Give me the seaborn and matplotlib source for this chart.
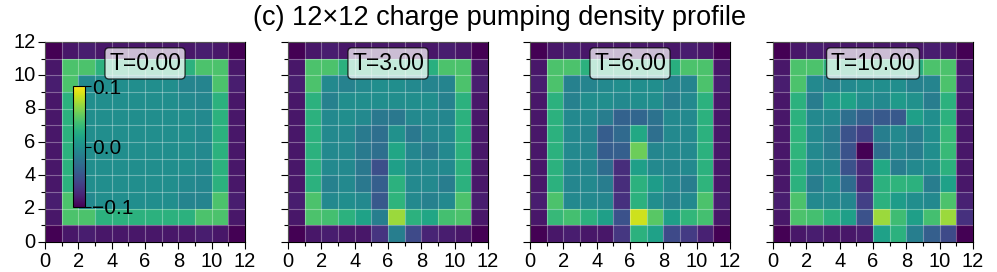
import numpy as np
import matplotlib
matplotlib.use("Agg")
import matplotlib.pyplot as plt
import seaborn as sns

plt.rcParams['font.family'] = ['Liberation Sans', 'DejaVu Sans']

times = ["T=0.00", "T=3.00", "T=6.00", "T=10.00"]
title = "(c) 12×12 charge pumping density profile"
tick_vals = [0, 2, 4, 6, 8, 10, 12]
cbar_ticks = [-0.1, 0.0, 0.1]

# rows listed from top (y=11) to bottom (y=0)
density_t0 = [
    [-0.100, -0.088, -0.084, -0.088, -0.088, -0.088, -0.088, -0.088, -0.088, -0.084, -0.088, -0.100],
    [-0.088, 0.043, 0.043, 0.028, 0.028, 0.028, 0.028, 0.028, 0.028, 0.043, 0.043, -0.088],
    [-0.084, 0.043, -0.006, -0.002, -0.002, -0.002, -0.002, -0.002, -0.010, -0.010, 0.043, -0.084],
    [-0.088, 0.028, -0.002, -0.002, -0.002, -0.002, -0.002, -0.002, -0.006, -0.008, 0.028, -0.088],
    [-0.088, 0.028, -0.002, -0.002, -0.002, -0.002, -0.002, -0.002, -0.002, -0.006, 0.028, -0.088],
    [-0.088, 0.028, -0.002, -0.002, -0.002, -0.002, -0.002, -0.002, -0.002, -0.006, 0.028, -0.088],
    [-0.088, 0.028, -0.002, -0.002, -0.002, -0.002, -0.002, -0.002, -0.002, -0.006, 0.028, -0.088],
    [-0.088, 0.028, -0.002, -0.002, -0.002, -0.002, -0.002, -0.002, -0.002, -0.006, 0.028, -0.088],
    [-0.088, 0.028, -0.002, -0.002, -0.002, -0.002, -0.002, -0.002, -0.006, -0.008, 0.028, -0.088],
    [-0.084, 0.043, -0.006, -0.002, -0.002, -0.002, -0.002, -0.002, -0.010, -0.010, 0.043, -0.084],
    [-0.088, 0.043, 0.043, 0.028, 0.028, 0.028, 0.028, 0.028, 0.028, 0.043, 0.043, -0.088],
    [-0.100, -0.088, -0.084, -0.088, -0.088, -0.088, -0.088, -0.088, -0.088, -0.084, -0.088, -0.100],
]

density_t3 = [
    [-0.100, -0.088, -0.084, -0.088, -0.088, -0.088, -0.088, -0.088, -0.088, -0.084, -0.088, -0.100],
    [-0.088, 0.043, 0.043, 0.028, 0.028, 0.028, 0.028, 0.028, 0.026, 0.043, 0.043, -0.088],
    [-0.084, 0.043, -0.006, -0.012, -0.006, -0.002, -0.002, -0.006, -0.010, -0.010, 0.043, -0.084],
    [-0.088, 0.028, -0.013, -0.002, -0.002, -0.002, -0.002, -0.002, -0.002, -0.013, 0.028, -0.088],
    [-0.088, 0.028, -0.006, -0.002, -0.006, -0.020, -0.020, -0.006, -0.006, -0.008, 0.028, -0.088],
    [-0.088, 0.028, -0.006, -0.006, -0.018, -0.028, 0.000, -0.020, -0.008, -0.006, 0.028, -0.088],
    [-0.088, 0.028, -0.006, -0.006, -0.018, -0.028, 0.018, -0.008, -0.018, -0.006, 0.028, -0.088],
    [-0.088, 0.028, -0.006, -0.006, -0.020, -0.052, 0.012, -0.006, -0.006, -0.006, 0.028, -0.088],
    [-0.088, 0.028, -0.013, -0.006, -0.020, -0.040, 0.028, -0.006, -0.006, -0.016, 0.028, -0.088],
    [-0.084, 0.043, -0.006, -0.002, -0.006, -0.045, 0.030, -0.006, -0.013, -0.006, 0.043, -0.084],
    [-0.088, 0.043, 0.040, 0.028, 0.015, -0.015, 0.070, 0.028, 0.018, 0.040, 0.043, -0.088],
    [-0.100, -0.088, -0.084, -0.088, -0.088, -0.070, -0.015, -0.055, -0.080, -0.084, -0.088, -0.100],
]

density_t6 = [
    [-0.100, -0.088, -0.084, -0.088, -0.088, -0.088, -0.088, -0.088, -0.088, -0.084, -0.088, -0.100],
    [-0.088, 0.043, 0.043, 0.028, 0.028, 0.028, 0.028, 0.028, 0.026, 0.043, 0.043, -0.088],
    [-0.084, 0.043, -0.013, -0.010, -0.006, -0.002, -0.002, -0.002, -0.010, -0.010, 0.043, -0.084],
    [-0.088, 0.028, -0.013, -0.002, -0.002, -0.006, -0.002, -0.002, -0.016, -0.006, 0.028, -0.088],
    [-0.088, 0.028, -0.006, -0.006, -0.016, -0.038, -0.035, -0.025, -0.006, -0.006, 0.028, -0.088],
    [-0.088, 0.028, -0.006, -0.010, -0.042, -0.032, 0.020, -0.028, -0.006, -0.006, 0.028, -0.088],
    [-0.088, 0.028, -0.006, -0.008, -0.042, -0.040, 0.055, -0.008, -0.006, -0.006, 0.028, -0.088],
    [-0.088, 0.028, -0.006, -0.008, -0.030, -0.075, 0.012, -0.006, -0.008, -0.006, 0.028, -0.088],
    [-0.088, 0.028, -0.008, -0.006, -0.016, -0.075, 0.028, 0.010, -0.006, -0.016, 0.030, -0.088],
    [-0.084, 0.043, -0.006, -0.006, -0.008, -0.072, 0.028, -0.002, -0.013, -0.006, 0.043, -0.084],
    [-0.088, 0.034, 0.040, 0.028, 0.012, -0.050, 0.085, 0.048, 0.012, 0.032, 0.040, -0.088],
    [-0.100, -0.088, -0.084, -0.088, -0.088, -0.068, 0.028, 0.014, -0.055, -0.065, -0.082, -0.100],
]

density_t10 = [
    [-0.100, -0.088, -0.084, -0.088, -0.088, -0.088, -0.088, -0.088, -0.088, -0.084, -0.088, -0.100],
    [-0.088, 0.043, 0.043, 0.028, 0.028, 0.028, 0.028, 0.028, 0.026, 0.043, 0.043, -0.088],
    [-0.084, 0.043, -0.006, -0.013, -0.006, -0.002, -0.002, -0.002, -0.013, -0.010, 0.043, -0.084],
    [-0.088, 0.028, -0.016, 0.008, 0.015, -0.002, -0.006, 0.008, 0.000, -0.016, 0.028, -0.088],
    [-0.088, 0.028, -0.006, -0.006, -0.028, -0.040, -0.045, -0.045, 0.012, -0.002, 0.028, -0.088],
    [-0.088, 0.030, -0.006, -0.016, -0.050, -0.062, -0.015, -0.006, -0.016, -0.002, 0.035, -0.088],
    [-0.088, 0.030, -0.006, -0.016, -0.050, -0.100, -0.028, -0.008, -0.016, -0.002, 0.035, -0.088],
    [-0.088, 0.028, -0.006, -0.008, -0.050, -0.078, 0.020, -0.016, -0.006, -0.002, 0.028, -0.088],
    [-0.088, 0.028, -0.016, -0.002, -0.030, -0.078, 0.028, 0.030, 0.028, -0.016, 0.014, -0.088],
    [-0.084, 0.043, -0.006, -0.006, -0.008, -0.062, 0.028, 0.010, -0.002, -0.006, 0.043, -0.082],
    [-0.088, 0.043, 0.040, 0.028, 0.012, -0.050, 0.070, 0.038, 0.012, 0.040, 0.070, -0.072],
    [-0.100, -0.088, -0.084, -0.088, -0.088, -0.085, 0.014, 0.028, -0.015, -0.040, -0.055, -0.100],
]

panels = [density_t0, density_t3, density_t6, density_t10]

W, H = 997, 272
fig = plt.figure(figsize=(W / 100, H / 100), dpi=100)
lefts_px = [45, 288, 530, 773]
size_px = 200
bottom_px = 272 - 242

for i, (rows, label) in enumerate(zip(panels, times)):
    ax = fig.add_axes([lefts_px[i] / W, bottom_px / H, size_px / W, size_px / H])
    data = np.array(rows)[::-1]
    sns.heatmap(data, ax=ax, cmap="viridis", vmin=-0.1, vmax=0.1, cbar=False)
    ax.set_xlim(0, 12)
    ax.set_ylim(0, 12)
    for s in ax.spines.values():
        s.set_visible(True)
        s.set_linewidth(0.8)
        s.set_color("black")
    ax.set_xticks(tick_vals)
    ax.set_xticklabels([str(v) for v in tick_vals], rotation=0)
    ax.set_yticks(tick_vals)
    if i == 0:
        ax.set_yticklabels([str(v) for v in tick_vals], rotation=0)
    else:
        ax.set_yticklabels([])
    ax.set_xticks(range(1, 12, 2), minor=True)
    ax.set_yticks(range(1, 12, 2), minor=True)
    ax.tick_params(which="major", direction="out", length=5, width=0.8, labelsize=14.5, pad=2)
    ax.tick_params(which="minor", direction="out", length=3, width=0.8)
    ax.set_axisbelow(False)
    ax.grid(which="both", color="white", alpha=0.33, linewidth=0.8)
    ax.set_xlabel("")
    ax.set_ylabel("")
    ax.text(0.5, 0.893, label, transform=ax.transAxes, ha="center", va="center",
            fontsize=16.5,
            bbox=dict(boxstyle="round,pad=0.18", facecolor="white", alpha=0.72,
                      edgecolor="black", linewidth=1.0))
    if i == 0:
        cax = ax.inset_axes([0.14, 0.175, 0.06, 0.605])
        cb = fig.colorbar(ax.collections[0], cax=cax, ticks=cbar_ticks)
        cb.ax.tick_params(labelsize=15, length=4, width=0.8, pad=1)
        cb.outline.set_linewidth(0.8)

fig.text(0.501, 0.935, title, ha="center", va="center", fontsize=19.5)
fig.savefig("out.png", dpi=100)
